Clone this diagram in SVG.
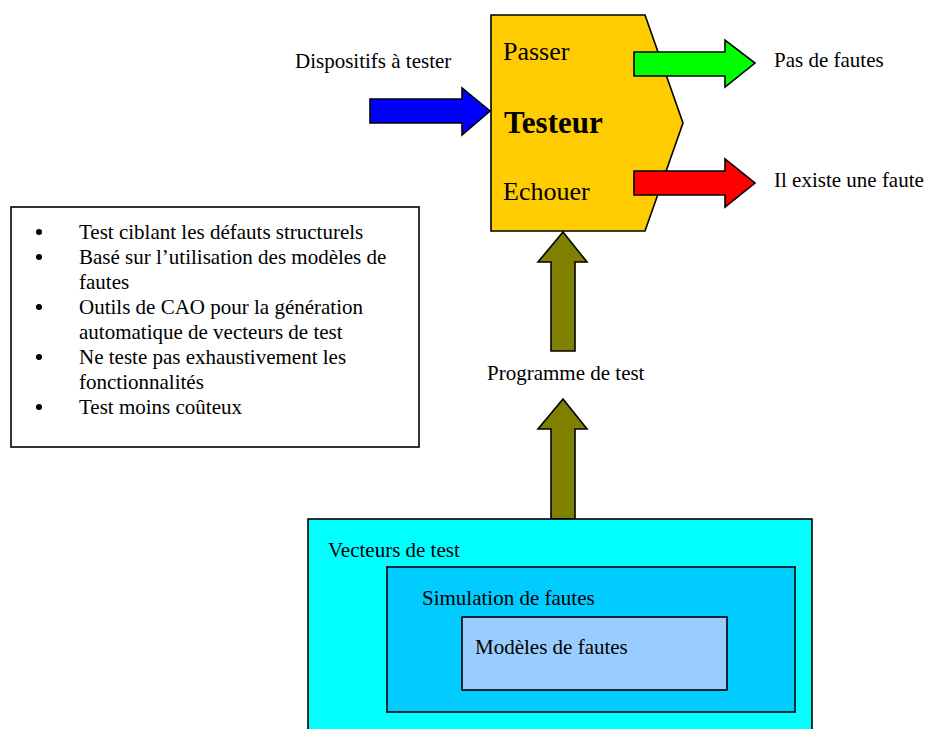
<svg xmlns="http://www.w3.org/2000/svg" width="927" height="729" viewBox="0 0 927 729">
<style>
text{font-family:"Liberation Serif","Times New Roman",serif;fill:#000}
.t{font-size:21px}
.s{stroke:#000;stroke-width:1.6;stroke-linejoin:miter}
</style>
<rect width="927" height="729" fill="#fff"/>
<g id="testeur">
<polygon class="s" points="491,15 645,15 683,123 645,231 491,231" fill="#FFCC00"/>
<text x="503" y="60" font-size="26">Passer</text>
<text x="504" y="133" font-size="31" font-weight="bold">Testeur</text>
<text x="503" y="200" font-size="26">Echouer</text>
</g>
<g id="connectors">
<polygon class="s" fill="#0000FF" points="370,99 462,99 462,88 490,111 462,135 462,123 370,123"/>
<polygon class="s" fill="#00FF00" points="634,52 725,52 725,40 755,63 725,87 725,76 634,76"/>
<polygon class="s" fill="#FF0000" points="634,171 725,171 725,159 755,183 725,207 725,195 634,195"/>
<polygon class="s" fill="#808000" points="551,351 551,262 538,262 563,232 587,262 575,262 575,351"/>
<polygon class="s" fill="#808000" points="551,519 551,429 538,429 563,399 587,429 575,429 575,519"/>
</g>
<g id="labels">
<text class="t" x="295" y="68">Dispositifs à tester</text>
<text class="t" x="774" y="67">Pas de fautes</text>
<text class="t" x="774" y="187">Il existe une faute</text>
<text class="t" x="487" y="380">Programme de test</text>
</g>
<g id="notes">
<rect class="s" x="11" y="207" width="408" height="240" fill="#fff"/>
<g fill="#000">
<circle cx="39" cy="232" r="3"/>
<circle cx="39" cy="257" r="3"/>
<circle cx="39" cy="307" r="3"/>
<circle cx="39" cy="357" r="3"/>
<circle cx="39" cy="407" r="3"/>
</g>
<text class="t" x="79" y="239">Test ciblant les défauts structurels</text>
<text class="t" x="79" y="264">Basé sur l’utilisation des modèles de</text>
<text class="t" x="79" y="289">fautes</text>
<text class="t" x="79" y="314">Outils de CAO pour la génération</text>
<text class="t" x="79" y="339">automatique de vecteurs de test</text>
<text class="t" x="79" y="364">Ne teste pas exhaustivement les</text>
<text class="t" x="79" y="389">fonctionnalités</text>
<text class="t" x="79" y="414">Test moins coûteux</text>
</g>
<g id="vecteurs">
<rect class="s" x="308" y="519" width="504" height="220" fill="#00FFFF"/>
<text class="t" x="328" y="557">Vecteurs de test</text>
</g>
<g id="simulation">
<rect class="s" x="387" y="567" width="408" height="145" fill="#00CCFF"/>
<text class="t" x="422" y="605">Simulation de fautes</text>
</g>
<g id="modeles">
<rect class="s" x="462" y="617" width="265" height="73" fill="#99CCFF"/>
<text class="t" x="475" y="654">Modèles de fautes</text>
</g>
</svg>
